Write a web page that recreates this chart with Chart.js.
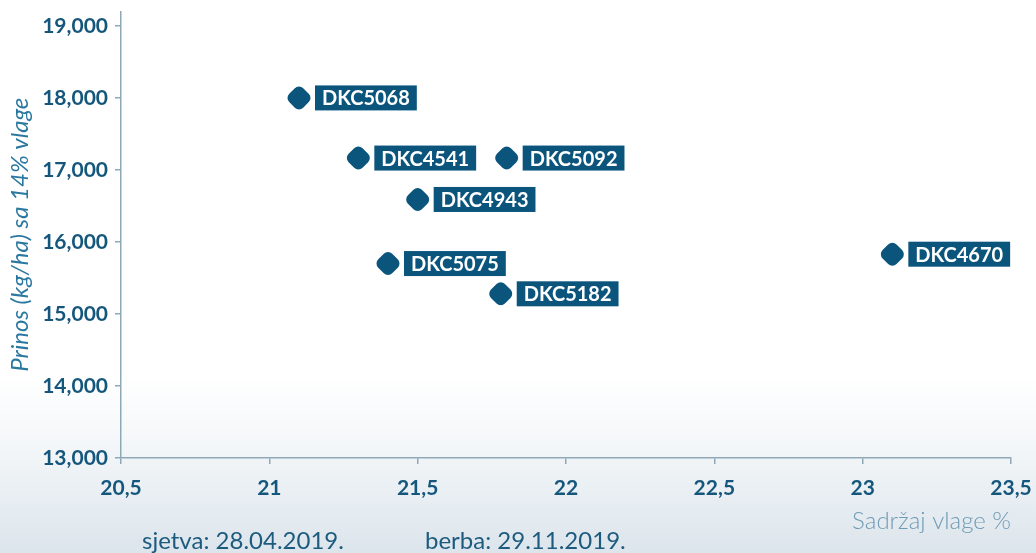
<!DOCTYPE html>
<html>
<head>
<meta charset="utf-8">
<script src="https://cdn.jsdelivr.net/npm/chart.js@4/dist/chart.umd.min.js"></script>
<style>
  html, body { margin: 0; padding: 0; }
  body {
    width: 1036px; height: 553px; overflow: hidden; position: relative;
    background: linear-gradient(to bottom, #ffffff 0%, #ffffff 68%, #f4f7f9 80%, #dce5ec 100%);
    font-family: Lato, "Open Sans", sans-serif;
  }
  #wrap { position: absolute; left: 0; top: 0; width: 1036px; height: 553px; }
  .note { position: absolute; top: 525px; font-size: 24px; line-height: 29px; color: #1d5b7e; white-space: nowrap; }
</style>
</head>
<body>
<div id="wrap"><canvas id="c" width="1036" height="553"></canvas></div>
<div class="note" style="left:142px;">sjetva: 28.04.2019.</div>
<div class="note" style="left:425px;">berba: 29.11.2019.</div>
<script>
const hybrids = ['DKC5068', 'DKC4541', 'DKC5092', 'DKC4943', 'DKC5075', 'DKC5182', 'DKC4670'];
const moisture = [21.1, 21.3, 21.8, 21.5, 21.4, 21.78, 23.1];
const yieldKg = [18000, 17165, 17165, 16590, 15700, 15280, 15830];
const xTicks = [20.5, 21, 21.5, 22, 22.5, 23, 23.5];
const yTicks = [13000, 14000, 15000, 16000, 17000, 18000, 19000];

const dark = '#0b557d';
const tickColor = '#15577c';
const axisColor = '#8fa8b8';

const labelPlugin = {
  id: 'pointLabels',
  afterDatasetsDraw(chart) {
    const ctx = chart.ctx;
    const meta = chart.getDatasetMeta(0);
    ctx.save();
    ctx.font = 'bold 20px Lato, "Open Sans", sans-serif';
    ctx.textBaseline = 'middle';
    ctx.textAlign = 'left';
    meta.data.forEach((pt, i) => {
      const txt = hybrids[i];
      const w = ctx.measureText(txt).width + 14;
      const h = 25;
      const bx = pt.x + 16;
      const by = pt.y - h / 2;
      ctx.fillStyle = dark;
      ctx.fillRect(bx, by, w, h);
      ctx.fillStyle = '#ffffff';
      ctx.fillText(txt, bx + 7, pt.y + 1);
    });
    ctx.restore();
  }
};

const fmtComma = v => String(v).replace('.', ',');

new Chart(document.getElementById('c'), {
  type: 'scatter',
  data: {
    datasets: [{
      data: moisture.map((m, i) => ({ x: m, y: yieldKg[i] })),
      pointStyle: 'rectRounded',
      rotation: 45,
      radius: 11.5,
      hoverRadius: 11.5,
      backgroundColor: dark,
      borderColor: dark,
      borderWidth: 0
    }]
  },
  options: {
    responsive: false,
    animation: false,
    events: [],
    layout: { padding: { top: 10, right: 25, bottom: 0, left: 0 } },
    plugins: { legend: { display: false }, tooltip: { enabled: false } },
    scales: {
      x: {
        type: 'linear',
        min: 20.5, max: 23.5,
        afterBuildTicks: s => { s.ticks = xTicks.map(v => ({ value: v })); },
        afterFit: s => { s.height = 95; s.paddingLeft = 0; s.paddingRight = 0; },
        grid: { display: true, drawOnChartArea: false, drawTicks: true, tickLength: 6, color: axisColor, lineWidth: 1.5 },
        border: { display: true, color: axisColor, width: 1.5 },
        ticks: {
          color: tickColor, padding: 12,
          font: { family: 'Lato', size: 21, weight: 'bold' },
          callback: v => fmtComma(v),
          maxRotation: 0, autoSkip: false
        },
        title: {
          display: true, text: 'Sadržaj vlage %', align: 'end',
          color: '#6f9ab4', padding: { top: 0, bottom: 17 },
          font: { family: 'Lato', size: 24, weight: '300' }
        }
      },
      y: {
        type: 'linear',
        min: 13000, max: 19200,
        afterBuildTicks: s => { s.ticks = yTicks.map(v => ({ value: v })); },
        afterFit: s => { s.width = 121; s.paddingTop = 0; s.paddingBottom = 0; },
        grid: { display: true, drawOnChartArea: false, drawTicks: true, tickLength: 6, color: axisColor, lineWidth: 1.5 },
        border: { display: true, color: axisColor, width: 1.5 },
        ticks: {
          color: tickColor, padding: 7,
          font: { family: 'Lato', size: 21, weight: 'bold' },
          callback: v => v.toLocaleString('en-US')
        },
        title: {
          display: true, text: 'Prinos (kg/ha) sa 14% vlage',
          color: '#2a78a0', padding: { top: 6, bottom: 0 },
          font: { family: 'Lato', size: 24, style: 'italic' }
        }
      }
    }
  },
  plugins: [labelPlugin]
});
</script>
</body>
</html>
